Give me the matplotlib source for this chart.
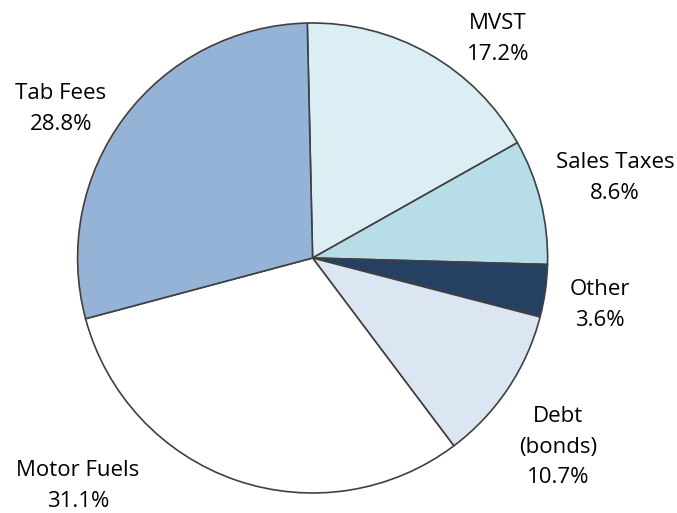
import matplotlib
matplotlib.use('Agg')
import matplotlib.pyplot as plt

# Data
labels = ['MVST', 'Sales Taxes', 'Other', 'Debt\n(bonds)', 'Motor Fuels', 'Tab Fees']
shares = [17.2, 8.6, 3.6, 10.7, 31.1, 28.8]
colors = ['#DAEEF3', '#B7DEE8', '#254061', '#DCE6F2', '#FFFFFF', '#95B3D7']

# label anchor points (pixels, y up)
label_pos = [(498, 474), (615, 335), (600, 208), (558, 66), (78, 27), (61, 404)]

plt.rcParams['font.family'] = ['Open Sans', 'DejaVu Sans']

fig = plt.figure(figsize=(6.77, 5.13), dpi=100)
ax = fig.add_axes([0, 0, 1, 1])

ax.pie(shares, colors=colors, startangle=91.3, counterclock=False,
       center=(312.6, 255), radius=235, frame=True,
       wedgeprops=dict(edgecolor='#404040', linewidth=1.2))
ax.set_xlim(0, 677)
ax.set_ylim(0, 513)
ax.set_aspect('equal')
ax.axis('off')

for lab, val, (x, y) in zip(labels, shares, label_pos):
    ax.text(x, y, '{}\n{:.1f}%'.format(lab, val), ha='center', va='center',
            multialignment='center', fontsize=16, linespacing=1.62, color='#000000')

fig.savefig('out.png', dpi=100)
